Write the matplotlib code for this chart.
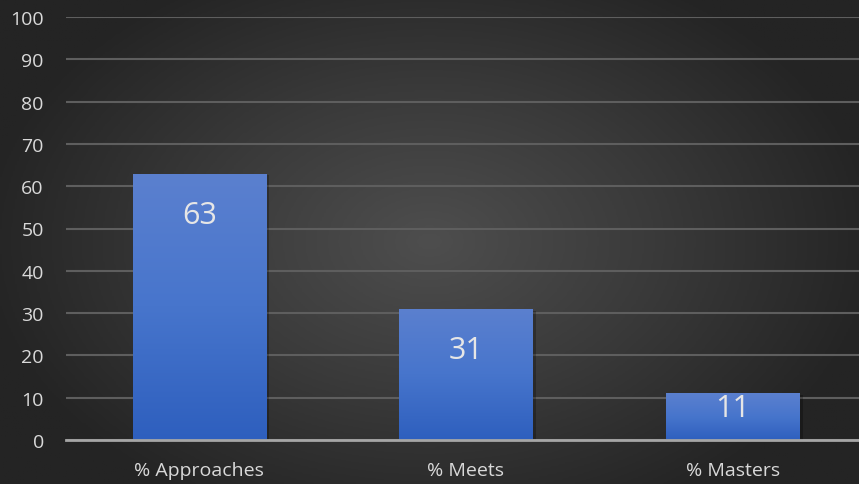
import numpy as np
import matplotlib.pyplot as plt
from matplotlib.colors import LinearSegmentedColormap
from matplotlib.patches import Rectangle

# Percent of students at each performance level
categories = ['% Approaches', '% Meets', '% Masters']
percents = [63, 31, 11]
yticks = [0, 10, 20, 30, 40, 50, 60, 70, 80, 90, 100]

# how far below the bar top each value label sits (points)
label_drop = [19, 19, 0]

plt.rcParams['font.family'] = ['Open Sans', 'DejaVu Sans']

fig = plt.figure(figsize=(8.59, 4.85), dpi=100)

# radial grey backdrop, lighter in the middle
bg = fig.add_axes([0, 0, 1, 1], zorder=0)
gx, gy = np.meshgrid(np.linspace(-1, 1, 400), np.linspace(-1, 1, 240))
r = np.clip(np.sqrt((gx / 1.05) ** 2 + (gy / 1.25) ** 2), 0, 1)
bg_cmap = LinearSegmentedColormap.from_list('bg', ['#4e4e4e', '#3a3a3a', '#242424'])
bg.imshow(r, cmap=bg_cmap, aspect='auto', extent=[0, 1, 0, 1], vmin=0, vmax=1)
bg.set_axis_off()

ax = fig.add_axes([66 / 859, 44 / 485, 800 / 859, 423 / 485], zorder=1)
ax.patch.set_alpha(0)

x = np.arange(len(categories))
width = 0.5
bars = ax.bar(x, percents, width=width, color='none', zorder=3)

# vertical blue gradient inside each bar, plus a faint drop shadow
bar_cmap = LinearSegmentedColormap.from_list('bar', ['#2e5fbe', '#4775cc', '#5b80cf'])
grad = np.linspace(0, 1, 256).reshape(-1, 1)
for b in bars:
    x0, y0 = b.get_x(), b.get_y()
    w, h = b.get_width(), b.get_height()
    ax.add_patch(Rectangle((x0 + 0.012, y0), w, h - 0.4, color='black', alpha=0.25,
                           zorder=2, linewidth=0))
    im = ax.imshow(grad, cmap=bar_cmap, origin='lower', aspect='auto',
                   extent=[x0, x0 + w, y0, y0 + h], zorder=3)
    im.set_clip_path(b)

for b, v, d in zip(bars, percents, label_drop):
    ax.annotate(str(v), (b.get_x() + b.get_width() / 2, v), xytext=(0, -d),
                textcoords='offset points', ha='center', va='top',
                fontsize=22, color='#e6e6e6', zorder=5)

ax.set_xlim(-0.5, len(categories) - 0.5)
ax.set_ylim(0, 100)
ax.set_yticks(yticks)
ax.set_xticks(x)
ax.set_xticklabels(categories)

ax.yaxis.grid(True, color='#5e5e5e', linewidth=1.5, zorder=1)
ax.set_axisbelow(True)
ax.axhline(0, color='#a6a6a6', linewidth=2, zorder=4, clip_on=False)

for s in ax.spines.values():
    s.set_visible(False)
ax.tick_params(axis='both', length=0, colors='#d9d9d9', labelsize=14)
ax.tick_params(axis='y', pad=16)
ax.tick_params(axis='x', pad=15)

fig.savefig('out.png', dpi=100)
